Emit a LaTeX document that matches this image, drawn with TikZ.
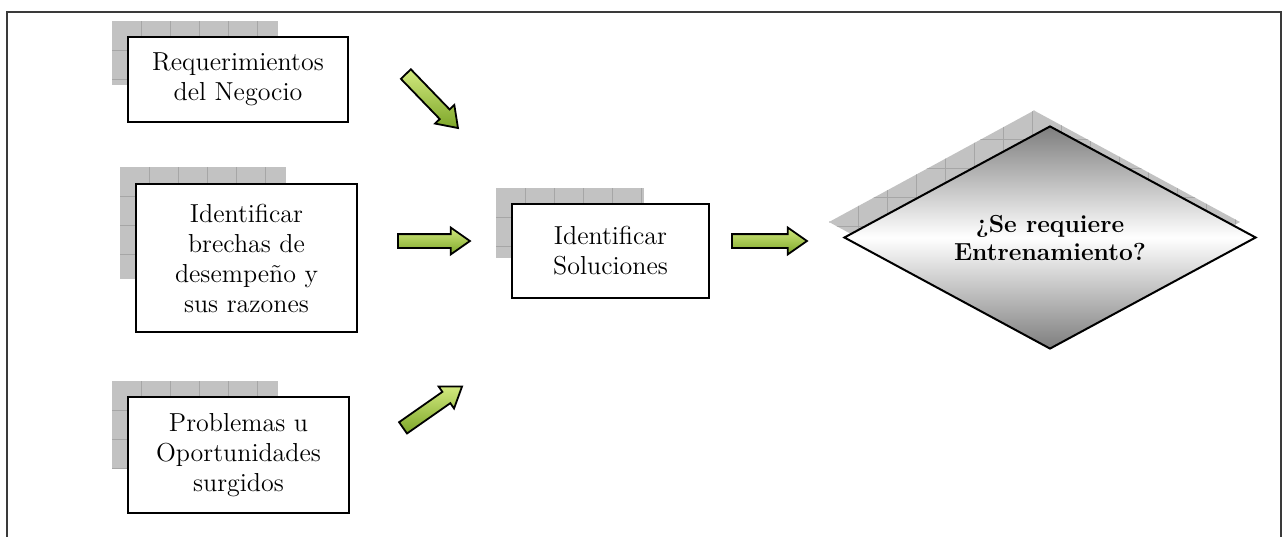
\documentclass[tikz,border=0pt]{standalone}
\usepackage{tikz}
\usetikzlibrary{shapes.geometric,shapes.arrows}

\definecolor{shadowgray}{HTML}{C2C2C2}
\definecolor{gridgray}{HTML}{A6A6A6}
\definecolor{arrowlight}{HTML}{D2E97E}
\definecolor{arrowdark}{HTML}{7DA629}
\definecolor{decgray}{HTML}{7E7E7E}
\definecolor{framegray}{HTML}{3A3A3A}

\tikzset{
  stepbox/.style={draw=black, line width=1pt, fill=white, align=center,
    inner sep=0pt, font=\fontsize{13}{15}\selectfont},
  greenarrow/.style={single arrow, draw=black, line width=0.9pt,
    top color=arrowlight, bottom color=arrowdark,
    text height=0pt, text depth=0pt, inner xsep=0pt, inner ysep=3pt,
    minimum width=12.5pt, single arrow head extend=3.25pt,
    single arrow tip angle=70},
  decision/.style={diamond, draw=black, line width=1pt, inner sep=0pt,
    shape aspect=1.85,
    top color=decgray, bottom color=decgray, middle color=white,
    minimum width=206pt, minimum height=111.5pt, align=center,
    font=\fontsize{12.3}{14}\selectfont\bfseries}
}

\begin{document}
\begin{tikzpicture}[x=0.5pt, y=-0.5pt]
    \useasboundingbox (0,0) rectangle (1283,536);
    % outer frame (open at the bottom)
    \draw[framegray, line width=1pt] (7,545) -- (7,12) -- (1281,12) -- (1281,545);

    % grey grid shadows behind the boxes
    \foreach \sx/\sy/\sw/\sh in {112/21/166/64, 120/167/166/112, 496/188/148/70, 112/381/166/87}{
        \begin{scope}
            \clip (\sx,\sy) rectangle ++(\sw,\sh);
            \fill[shadowgray] (\sx,\sy) rectangle ++(\sw,\sh);
            \foreach \g in {29,58,...,174}{
                \draw[gridgray] (\sx+\g,\sy) -- ++(0,\sh);
                \draw[gridgray] (\sx,\sy+\g) -- ++(\sw,0);
            }
        \end{scope}
    }
    % shadow of the decision
    \begin{scope}
        \clip (829,222) -- (1034,110.5) -- (1240,222) -- (1034,333.5) -- cycle;
        \fill[shadowgray] (820,100) rectangle (1250,340);
        \foreach \g in {0,29,...,406} \draw[gridgray] (829+\g,100) -- ++(0,240);
        \foreach \g in {0,29,...,232} \draw[gridgray] (820,110+\g) -- ++(430,0);
    \end{scope}

    % the boxes
    \node[stepbox, minimum width=110pt, minimum height=42.5pt] (req) at (238,79.5)
        {Requerimientos\\del Negocio};
    \node[stepbox, minimum width=110.5pt, minimum height=74pt] (brechas) at (246.5,258)
        {Identificar\\brechas de\\desempeño y\\sus razones};
    \node[stepbox, minimum width=110.5pt, minimum height=58pt] (problemas) at (238.5,455)
        {Problemas u\\Oportunidades\\surgidos};
    \node[stepbox, minimum width=98.5pt, minimum height=47pt] (soluciones) at (610.5,251)
        {Identificar\\Soluciones};
    \node[decision] (entrena) at (1050,237.5) {¿Se requiere\\Entrenamiento?};

    % green block arrows
    \node[greenarrow, minimum height=37.5pt, rotate=-46] (a1) at (428.5,97.5) {};
    \node[greenarrow, minimum height=36pt] (a2) at (429,241) {};
    \node[greenarrow, minimum height=36pt, rotate=35] (a3) at (428.5,410) {};
    \node[greenarrow, minimum height=37.5pt] (a4) at (764.5,241) {};
\end{tikzpicture}
\end{document}
